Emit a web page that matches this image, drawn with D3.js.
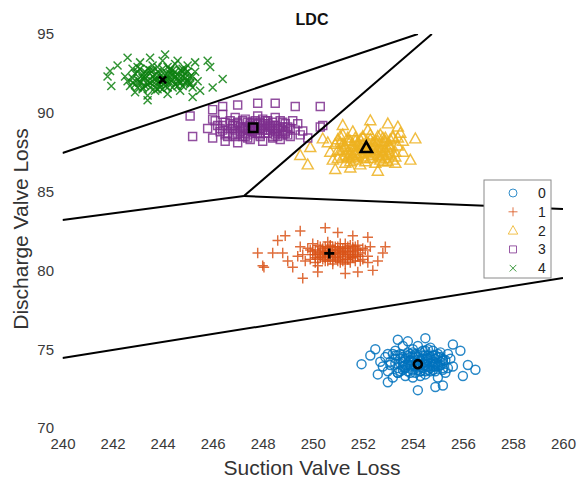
<!DOCTYPE html>
<html>
<head>
<meta charset="utf-8">
<title>LDC</title>
<script src="https://d3js.org/d3.v7.min.js"></script>
<style>
  body { margin: 0; background: #fff; }
  text { font-family: "Liberation Sans", Arial, sans-serif; }
</style>
</head>
<body>
<div id="chart"></div>
<script>
// class labels and colours
var classes = ["0", "1", "2", "3", "4"];
var colors = ["#0072BD", "#D95319", "#EDB120", "#7E2F8E", "#0c800f"];

// tick labels
var xTicks = [240, 242, 244, 246, 248, 250, 252, 254, 256, 258, 260];
var yTicks = [70, 75, 80, 85, 90, 95];

// class centroids [suction, discharge]
var centroids = [[254.2, 74.05], [250.66, 81.08], [252.14, 87.78], [247.62, 89.05], [244.0, 92.09]];

// decision boundaries (endpoints)
var boundaries = [
  [[240, 87.45], [254.2, 95]],
  [[247.25, 84.72], [254.76, 95]],
  [[240, 83.2], [247.25, 84.72]],
  [[247.25, 84.72], [260, 83.9]],
  [[240, 74.44], [260, 79.52]]
];

// samples, class 0
var pts0 = [[251.95,74.05],[256.5,73.7],[254.2,72.4],[253.4,75.6],[254.5,75.7],[252.5,75.0],[255.9,74.9],[256.0,73.3],
  [253.0,72.9],[255.2,72.7],[252.3,74.6],[255.6,75.3],[253.8,75.5],[254.9,72.6],[256.2,74.0],[252.6,73.4],
  [253.1,74.2],[253.4,73.8],[253.6,74.5],[253.9,74.0],[254.1,74.7],[254.3,73.6],[254.6,74.3],[254.8,73.9],[255.0,74.5],
  [255.2,74.1],[253.3,74.9],[253.7,73.3],[254.0,75.0],[254.4,74.9],[254.7,75.1],[255.1,74.8],[255.4,73.8],[253.0,73.6],
  [253.5,74.1],[253.8,74.8],[254.2,74.3],[254.5,73.4],[254.9,74.6],[255.3,73.5],[252.9,74.5],[253.2,73.2],[253.6,75.2],
  [254.0,73.2],[254.6,75.0],[255.0,73.2],[255.5,74.4],[252.8,73.9],[253.4,74.6],[253.9,73.5],[254.3,74.0],[254.8,74.2],
  [255.2,73.7],[253.1,74.0],[253.7,74.4],[254.1,73.9],[254.5,74.6],[254.9,73.6],[255.3,74.3],[253.5,73.6],[253.9,74.3],
  [254.2,75.2],[254.7,73.8],[255.1,74.0],[253.3,74.4],[253.8,74.0],[254.4,74.4],[254.6,73.7],[255.4,74.7],[253.0,74.7],
  [254.0,74.5],[254.3,73.3],[254.8,74.9],[255.6,73.9],[252.7,74.2],[253.6,73.9],[254.1,74.1],[254.5,74.0],[255.0,73.9],
  [253.2,74.7],[253.9,74.7],[254.7,74.5],[255.2,74.4],[253.4,73.5],[254.2,73.7],[254.9,74.1]];
var core0 = [[253.3,74.1],[253.5,74.4],[253.6,73.7],[253.8,74.6],[253.9,73.9],[254.0,74.2],[254.1,73.5],[254.2,74.5],
  [254.3,74.8],[254.4,73.8],[254.5,74.2],[254.6,74.6],[254.7,73.6],[254.8,74.0],[254.9,74.4],[255.0,74.7],[255.1,74.2],
  [255.2,73.8],[253.4,73.5],[253.7,74.0],[253.9,74.5],[254.1,74.0],[254.3,74.3],[254.5,73.6],[254.7,74.1],[254.9,73.9],
  [255.1,74.5],[253.5,74.7],[253.8,73.6],[254.0,74.8],[254.2,73.9],[254.4,74.6],[254.6,73.9],[254.8,74.6],[255.0,74.0],
  [253.6,74.2],[254.0,73.7],[254.4,74.1],[254.8,73.7],[253.3,74.6],[254.6,74.4],[253.7,73.8],[254.2,74.1],[255.2,74.3],
  [254.1,74.6],[254.5,74.9],[253.9,74.2],[254.3,73.6]];

// samples, class 1
var pts1 = [[247.8,81.1],[248.0,80.3],[248.05,80.2],[248.4,81.1],[248.8,81.1],[248.6,81.9],[248.9,82.2],[249.6,79.5],
  [249.2,80.2],[249.5,82.5],[250.5,82.7],[251.0,82.4],[251.6,82.2],[252.2,82.1],[252.8,81.1],[252.6,80.6],[252.4,80.0],
  [251.8,79.9],[250.2,79.9],[249.0,80.6],[252.9,81.5],[251.3,79.8],
  [249.6,81.0],[249.8,81.4],[249.9,80.7],[250.0,81.2],[250.1,80.5],[250.2,81.6],[250.3,80.9],[250.4,81.3],[250.5,80.6],
  [250.6,81.8],[250.7,81.0],[250.8,80.4],[250.9,81.5],[251.0,80.8],[251.1,81.2],[251.2,80.6],[251.3,81.7],[251.4,81.0],
  [251.5,80.5],[251.6,81.4],[251.7,80.9],[251.8,81.6],[251.9,81.1],[252.0,80.7],[252.1,81.3],[252.2,80.9],[249.7,80.6],
  [249.5,81.5],[250.0,81.7],[250.3,81.1],[250.5,81.5],[250.7,80.7],[250.9,81.1],[251.1,81.7],[251.3,80.4],[251.5,81.0],
  [251.8,81.0],[252.3,81.5],[250.2,80.3],[250.6,80.9],[251.0,81.5],[251.4,80.7],[251.7,81.3],[250.1,81.0],[250.4,80.7],
  [250.8,81.3],[251.2,81.1],[251.6,80.8],[252.0,81.4],[249.9,81.3],[250.5,81.1],[250.9,80.9],[251.3,81.3],[251.9,80.6],
  [250.7,81.5],[251.1,80.5],[249.4,80.9],[250.6,81.2],[251.5,81.6],[252.2,80.5]];
var core1 = [[250.0,81.0],[250.1,81.3],[250.2,80.7],[250.3,81.5],[250.4,81.0],[250.5,80.8],[250.6,81.4],[250.7,81.1],
  [250.8,80.6],[250.9,81.3],[251.0,81.0],[251.1,80.7],[251.2,81.4],[251.3,81.0],[251.4,81.5],[251.5,80.8],[251.6,81.2],
  [251.7,80.6],[251.8,81.3],[250.2,81.1],[250.4,81.4],[250.6,80.6],[250.8,81.0],[251.0,81.3],[251.2,80.9],[251.4,81.2],
  [251.6,80.9],[250.3,80.8],[250.5,81.2],[250.7,81.6],[250.9,80.8],[251.1,81.1],[251.3,81.4],[251.5,81.1],[251.7,81.5],
  [250.1,80.8],[250.6,81.0],[251.0,80.6],[251.4,80.7],[251.8,80.9],[250.4,81.2],[250.8,81.5],[251.2,81.2],[251.6,81.5],
  [250.5,81.0],[251.1,81.4],[250.9,81.1],[251.3,80.7]];

// samples, class 2
var pts2 = [[254.1,88.35],[249.5,87.3],[252.3,89.5],[250.4,88.35],[249.8,86.7],[251.2,89.2],[253.4,89.1],[253.9,87.0],
  [250.9,86.4],[252.6,86.3],[251.5,86.5],[249.9,87.8],[253.0,89.3],
  [250.7,87.5],[250.9,88.0],[251.0,87.1],[251.1,88.5],[251.2,87.7],[251.3,86.8],[251.4,88.2],[251.5,87.4],[251.6,88.8],
  [251.7,87.0],[251.8,87.9],[251.9,86.7],[252.0,88.4],[252.1,87.5],[252.2,88.9],[252.3,87.1],[252.4,88.1],[252.5,86.8],
  [252.6,87.7],[252.7,88.6],[252.8,87.3],[252.9,88.2],[253.0,86.9],[253.1,87.8],[253.2,88.5],[253.3,87.2],[253.4,87.9],
  [253.5,88.7],[253.6,87.5],[250.8,87.0],[251.0,88.3],[251.3,87.9],[251.5,86.9],[251.7,88.4],[251.9,87.4],[252.1,86.9],
  [252.3,88.6],[252.5,87.4],[252.7,87.0],[252.9,87.6],[253.1,88.3],[253.3,86.8],[250.6,88.1],[251.2,88.6],[251.6,87.8],
  [252.0,87.2],[252.4,87.8],[252.8,88.4],[253.2,87.0],[253.6,88.2],[251.4,87.2],[251.8,88.1],[252.2,87.6],[252.6,88.2],
  [253.0,87.7],[251.1,87.6],[252.0,88.0],[252.8,86.9],[253.4,88.4],[251.6,87.3]];
var core2 = [[251.0,87.6],[251.1,88.1],[251.2,87.2],[251.3,87.8],[251.4,88.4],[251.5,87.1],[251.6,87.6],[251.7,88.2],
  [251.8,87.3],[251.9,87.9],[252.0,88.5],[252.1,87.1],[252.2,87.7],[252.3,88.3],[252.4,87.3],[252.5,87.9],[252.6,88.5],
  [252.7,87.2],[252.8,87.8],[252.9,88.4],[253.0,87.3],[253.1,87.9],[253.2,88.4],[253.3,87.5],[251.2,88.0],[251.4,87.5],
  [251.6,88.0],[251.8,87.6],[252.0,87.4],[252.2,88.1],[252.4,87.6],[252.6,87.3],[252.8,88.1],[253.0,88.0],[251.3,87.3],
  [251.5,88.2],[251.7,87.4],[251.9,88.3],[252.1,87.8],[252.3,87.5],[252.5,88.2],[252.7,87.6],[252.9,87.1],[253.1,87.4],
  [252.0,87.9],[252.4,88.0],[251.6,87.2],[252.8,87.5]];

// samples, class 3
var pts3 = [[245.2,88.5],[245.1,89.8],[246.4,90.4],[249.3,90.4],[248.5,90.6],[250.4,89.2],[246.0,90.2],[247.0,90.5],
  [247.8,90.6],[249.8,88.4],[250.3,90.4],[250.3,89.1],[249.6,88.85],
  [245.8,89.0],[246.0,88.4],[246.1,89.5],[246.3,88.8],[246.4,89.9],[246.5,88.2],[246.7,89.3],[246.8,88.6],[246.9,89.7],
  [247.0,88.1],[247.1,89.1],[247.2,88.5],[247.3,89.6],[247.4,88.9],[247.5,88.3],[247.6,89.4],[247.7,88.7],[247.8,89.8],
  [247.9,89.0],[248.0,88.2],[248.1,89.5],[248.2,88.7],[248.3,89.2],[248.4,88.4],[248.5,89.7],[248.6,88.9],[248.7,88.3],
  [248.8,89.4],[248.9,88.7],[249.0,89.1],[249.1,88.5],[249.2,89.5],[249.3,88.9],[249.5,88.6],[246.2,89.2],[246.6,88.5],
  [247.0,89.4],[247.3,88.7],[247.6,88.9],[247.9,88.5],[248.2,89.3],[248.5,88.8],[248.8,89.1],[249.1,89.0],[246.4,88.9],
  [246.8,89.2],[247.2,88.9],[247.5,89.2],[247.8,89.3],[248.1,88.9],[248.4,89.0],[248.7,89.5],[249.0,88.6],[246.0,89.6],
  [247.4,88.4],[248.0,89.6],[248.6,88.5],[249.4,89.3],[246.9,88.9],[247.7,89.1]];
var core3 = [[246.3,89.0],[246.5,89.4],[246.6,88.7],[246.8,89.0],[246.9,88.5],[247.0,89.3],[247.1,88.8],[247.2,89.5],
  [247.3,89.0],[247.4,88.6],[247.5,89.3],[247.6,88.8],[247.7,89.5],[247.8,89.0],[247.9,88.6],[248.0,89.2],[248.1,88.7],
  [248.2,89.5],[248.3,88.9],[248.4,88.5],[248.5,89.2],[248.6,88.7],[248.7,89.1],[248.8,88.6],[248.9,89.3],[249.0,88.9],
  [246.5,88.6],[246.7,89.5],[247.0,88.7],[247.2,89.1],[247.4,89.4],[247.6,89.1],[247.8,88.7],[248.0,88.9],[248.2,89.1],
  [248.4,89.4],[248.6,89.0],[248.8,88.9],[246.4,89.2],[246.9,89.2],[247.3,88.5],[247.7,88.9],[248.1,89.3],[248.5,88.6],
  [248.9,88.8],[247.5,88.9],[247.9,89.4],[248.3,89.1]];

// samples, class 4
var pts4 = [[241.9,92.65],[241.95,91.7],[246.4,92.15],[245.8,93.3],[245.9,92.9],[242.2,93.0],[243.4,90.8],[245.2,91.0],
  [242.6,93.5],[244.1,93.7],[246.0,91.6],[241.8,92.3],
  [242.5,92.3],[242.7,91.7],[242.8,92.8],[242.9,91.3],[243.0,92.1],[243.1,93.2],[243.2,91.6],[243.3,92.6],[243.4,91.1],
  [243.5,93.5],[243.6,92.0],[243.7,91.4],[243.8,92.9],[243.9,91.8],[244.0,93.3],[244.1,92.4],[244.2,91.2],[244.3,92.7],
  [244.4,91.6],[244.5,93.1],[244.6,92.2],[244.7,91.4],[244.8,92.8],[244.9,91.9],[245.0,93.0],[245.1,92.3],[245.2,91.6],
  [245.3,92.6],[245.4,92.0],[245.5,91.4],[242.6,92.0],[242.9,92.5],[243.1,91.9],[243.3,92.2],[243.5,92.7],[243.7,92.4],
  [243.9,92.3],[244.1,91.9],[244.3,92.1],[244.5,92.6],[244.7,92.0],[244.9,92.5],[245.1,91.9],[245.3,93.2],[243.0,92.9],
  [243.4,91.8],[243.8,91.5],[244.2,92.9],[244.6,91.7],[245.0,92.1],[243.2,92.4],[243.6,93.0],[244.0,91.5],[244.4,92.4],
  [244.8,92.3],[243.8,92.1],[244.2,92.2],[243.5,91.6],[244.6,93.3],[242.8,91.9]];
var core4 = [[242.8,92.2],[242.9,91.8],[243.0,92.6],[243.1,92.0],[243.2,91.5],[243.3,92.4],[243.4,92.8],[243.5,91.9],
  [243.6,92.3],[243.7,91.6],[243.8,92.6],[243.9,92.0],[244.0,92.8],[244.1,91.7],[244.2,92.4],[244.3,91.9],[244.4,92.7],
  [244.5,91.8],[244.6,92.4],[244.7,92.7],[244.8,91.7],[244.9,92.2],[245.0,92.6],[245.1,91.8],[245.2,92.3],[243.0,91.6],
  [243.2,92.2],[243.4,92.0],[243.6,92.7],[243.8,91.9],[244.0,92.2],[244.2,91.6],[244.4,92.1],[244.6,92.0],[244.8,92.6],
  [245.0,91.9],[243.1,92.8],[243.3,91.7],[243.5,92.5],[243.7,92.1],[243.9,92.5],[244.1,92.1],[244.3,92.5],[244.5,92.3],
  [244.7,91.9],[244.9,92.8],[243.9,91.6],[244.3,92.8]];

var samples = [pts0.concat(core0), pts1.concat(core1), pts2.concat(core2), pts3.concat(core3), pts4.concat(core4)];

var width = 580, height = 481;
var svg = d3.select("#chart").append("svg")
    .attr("width", width)
    .attr("height", height);

var x = d3.scaleLinear().domain([240, 260]).range([62.5, 563]);
var y = d3.scaleLinear().domain([70, 95]).range([428, 34]);

// marker shapes, like matlab: o + ^ s x
function marker(k, s) {
  if (k == 0) return "M" + s + ",0A" + s + "," + s + " 0 1 1 " + (-s) + ",0A" + s + "," + s + " 0 1 1 " + s + ",0Z";
  if (k == 1) return "M" + (-s) + ",0H" + s + "M0," + (-s) + "V" + s;
  if (k == 2) return "M0," + (-s) + "L" + (s * 0.95) + "," + (s * 0.7) + "L" + (-s * 0.95) + "," + (s * 0.7) + "Z";
  if (k == 3) return "M" + (-s) + "," + (-s) + "H" + s + "V" + s + "H" + (-s) + "Z";
  return "M" + (-s) + "," + (-s) + "L" + s + "," + s + "M" + (-s) + "," + s + "L" + s + "," + (-s);
}
var sizes = [4.5, 5.2, 5.8, 4, 4];

// axes, no axis lines
var gx = svg.append("g")
    .attr("transform", "translate(0," + y(70) + ")")
    .call(d3.axisBottom(x).tickValues(xTicks).tickSize(0).tickPadding(10).tickFormat(d3.format("d")));
var gy = svg.append("g")
    .attr("transform", "translate(" + x(240) + ",0)")
    .call(d3.axisLeft(y).tickValues(yTicks).tickSize(0).tickPadding(8.5).tickFormat(d3.format("d")));
svg.selectAll(".domain").remove();
svg.selectAll(".tick text")
    .style("font-size", "15px")
    .style("font-family", "'Liberation Sans', Arial, sans-serif")
    .attr("fill", "#3a3a3a");

// points
samples.forEach(function(pts, k) {
  svg.append("g").selectAll("path")
    .data(pts)
    .enter().append("path")
      .attr("d", marker(k, sizes[k]))
      .attr("transform", function(d) { return "translate(" + x(d[0]) + "," + y(d[1]) + ")"; })
      .attr("fill", "none")
      .attr("stroke", colors[k])
      .attr("stroke-width", 1.45)
      .attr("stroke-opacity", 0.85);
});

// boundary lines
svg.append("defs").append("clipPath").attr("id", "clip")
  .append("rect").attr("x", x(240)).attr("y", y(95)).attr("width", x(260) - x(240)).attr("height", y(70) - y(95));
svg.append("g").attr("clip-path", "url(#clip)")
  .selectAll("line")
  .data(boundaries)
  .enter().append("line")
    .attr("x1", function(d) { return x(d[0][0]); })
    .attr("y1", function(d) { return y(d[0][1]); })
    .attr("x2", function(d) { return x(d[1][0]); })
    .attr("y2", function(d) { return y(d[1][1]); })
    .attr("stroke", "#000")
    .attr("stroke-width", 2);

// centroids
var cSizes = [4, 5, 6, 4.2, 3.5];
svg.append("g").selectAll("path")
  .data(centroids)
  .enter().append("path")
    .attr("d", function(d, i) { return marker(i, cSizes[i]); })
    .attr("transform", function(d) { return "translate(" + x(d[0]) + "," + y(d[1]) + ")"; })
    .attr("fill", "none")
    .attr("stroke", "#000")
    .attr("stroke-width", 2.6);

// title and axis labels
svg.append("text")
    .attr("x", 312).attr("y", 25)
    .attr("text-anchor", "middle")
    .style("font-size", "16px").style("font-weight", "bold")
    .attr("fill", "#111")
    .text("LDC");
svg.append("text")
    .attr("x", 312).attr("y", 475)
    .attr("text-anchor", "middle")
    .style("font-size", "21px")
    .attr("fill", "#333")
    .text("Suction Valve Loss");
svg.append("text")
    .attr("transform", "translate(28,229) rotate(-90)")
    .attr("text-anchor", "middle")
    .style("font-size", "21px")
    .attr("fill", "#333")
    .text("Discharge Valve Loss");

// legend
var legend = svg.append("g").attr("transform", "translate(484,180)");
legend.append("rect")
    .attr("width", 67).attr("height", 98)
    .attr("fill", "#fff")
    .attr("stroke", "#8a8a8a")
    .attr("stroke-width", 1);
var items = legend.selectAll(".item")
  .data(classes)
  .enter().append("g")
    .attr("transform", function(d, i) { return "translate(0," + (13 + i * 18.8) + ")"; });
items.append("path")
    .attr("d", function(d, i) { return marker(i, [4, 4.5, 5, 3.5, 3.3][i]); })
    .attr("transform", "translate(29,0)")
    .attr("fill", "none")
    .attr("stroke", function(d, i) { return colors[i]; })
    .attr("stroke-width", 1)
    .attr("stroke-opacity", 0.8);
items.append("text")
    .attr("x", 54).attr("y", 5)
    .style("font-size", "14px")
    .attr("fill", "#222")
    .text(function(d) { return d; });
</script>
</body>
</html>
